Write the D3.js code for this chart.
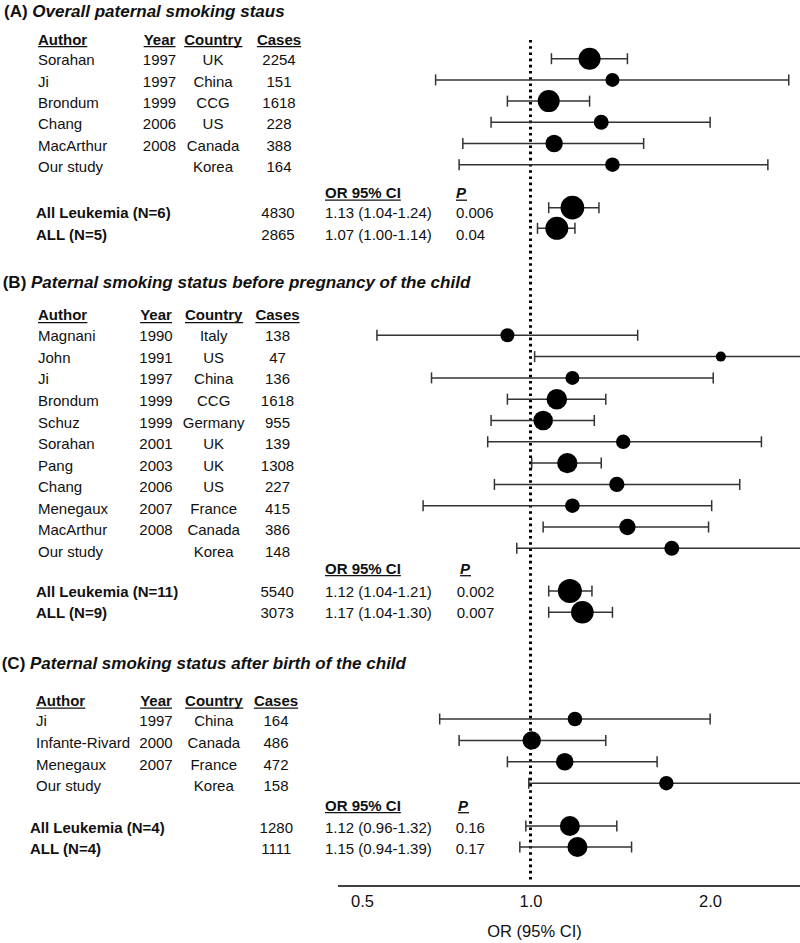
<!DOCTYPE html>
<html>
<head>
<meta charset="utf-8">
<script src="https://cdn.jsdelivr.net/npm/d3@7"></script>
<style>
  html, body { margin: 0; padding: 0; background: #fff; }
  svg { display: block; font-family: "Liberation Sans", Arial, Helvetica, sans-serif; }
</style>
</head>
<body>
<svg id="chart" width="800" height="943"></svg>
<script>
// ---------------- DATA ----------------
const panelLetters = ["(A)", "(B)", "(C)"];
const panelTitles = [
  "Overall paternal smoking staus",
  "Paternal smoking status before pregnancy of the child",
  "Paternal smoking status after birth of the child"
];
const headerLabels = ["Author", "Year", "Country", "Cases"];
const summaryHeaders = ["OR 95% CI", "P"];

// Panel A
const authorsA   = ["Sorahan", "Ji", "Brondum", "Chang", "MacArthur", "Our study"];
const yearsA     = ["1997", "1997", "1999", "2006", "2008", ""];
const countriesA = ["UK", "China", "CCG", "US", "Canada", "Korea"];
const casesA     = [2254, 151, 1618, 228, 388, 164];
const orA        = [1.20, 1.30, 1.04, 1.25, 1.06, 1.30];
const loA        = [1.05, 0.70, 0.90, 0.85, 0.77, 0.76];
const hiA        = [1.37, 2.41, 1.20, 1.83, 1.45, 2.24];
const weightA    = [121, 49, 121, 56, 76, 52];
const sumLabelsA = ["All Leukemia (N=6)", "ALL (N=5)"];
const sumCasesA  = [4830, 2865];
const sumOrA     = [1.13, 1.07];
const sumLoA     = [1.04, 1.00];
const sumHiA     = [1.24, 1.14];
const sumPA      = ["0.006", "0.04"];
const sumWeightA = [140, 132];

// Panel B
const authorsB   = ["Magnani", "John", "Ji", "Brondum", "Schuz", "Sorahan", "Pang", "Chang", "Menegaux", "MacArthur", "Our study"];
const yearsB     = ["1990", "1991", "1997", "1999", "1999", "2001", "2003", "2006", "2007", "2008", ""];
const countriesB = ["Italy", "US", "China", "CCG", "Germany", "UK", "UK", "US", "France", "Canada", "Korea"];
const casesB     = [138, 47, 136, 1618, 955, 139, 1308, 227, 415, 386, 148];
const orB        = [0.90, 1.90, 1.13, 1.07, 1.02, 1.35, 1.11, 1.32, 1.13, 1.37, 1.60];
const loB        = [0.57, 0.99, 0.69, 0.90, 0.85, 0.84, 0.98, 0.86, 0.67, 1.02, 0.93];
const hiB        = [1.42, 3.60, 1.85, 1.27, 1.22, 2.19, 1.25, 2.03, 1.84, 1.82, 3.00];
const weightB    = [49, 25, 49, 106, 96, 52, 104, 59, 53, 67, 56];
const sumLabelsB = ["All Leukemia (N=11)", "ALL (N=9)"];
const sumCasesB  = [5540, 3073];
const sumOrB     = [1.12, 1.17];
const sumLoB     = [1.04, 1.04];
const sumHiB     = [1.21, 1.30];
const sumPB      = ["0.002", "0.007"];
const sumWeightB = [144, 128];

// Panel C
const authorsC   = ["Ji", "Infante-Rivard", "Menegaux", "Our study"];
const yearsC     = ["1997", "2000", "2007", ""];
const countriesC = ["China", "Canada", "France", "Korea"];
const casesC     = [164, 486, 472, 158];
const orC        = [1.14, 0.98, 1.10, 1.57];
const loC        = [0.71, 0.76, 0.90, 0.97];
const hiC        = [1.83, 1.27, 1.52, 3.20];
const weightC    = [53, 85, 77, 52];
const sumLabelsC = ["All Leukemia (N=4)", "ALL (N=4)"];
const sumCasesC  = [1280, 1111];
const sumOrC     = [1.12, 1.15];
const sumLoC     = [0.96, 0.94];
const sumHiC     = [1.32, 1.39];
const sumPC      = ["0.16", "0.17"];
const sumWeightC = [100, 100];

const axisTicks = [0.5, 1.0, 2.0];
const axisTitle = "OR (95% CI)";
const refValue = 1.0;

// ---------------- LAYOUT ----------------
const W = 800, H = 943;
const svg = d3.select("#chart");
const FS = 15;       // table font size
const TITLE_FS = 17;
const AXIS_FS = 16.5;

// data scale (log)
const x = d3.scaleLog().domain([1, 2]).range([537.5, 735.5]);
// axis label scale (as drawn in the original figure)
const xAxisScale = d3.scaleLog().domain([0.5, 1, 2]).range([362, 530.5, 710]);
const rScale = d3.scaleSqrt().domain([0, 144]).range([0, 12]);
const fmt = d3.format(".2f");

function makeRows(authors, years, countries, cases, or, lo, hi, w) {
  return authors.map((a, i) => ({author: a, year: years[i], country: countries[i], cases: cases[i], or: or[i], lo: lo[i], hi: hi[i], w: w[i]}));
}
function makeSums(labels, cases, or, lo, hi, p, w) {
  return labels.map((l, i) => ({label: l, cases: cases[i], or: or[i], lo: lo[i], hi: hi[i], p: p[i], w: w[i]}));
}

const panels = [
  { rows: makeRows(authorsA, yearsA, countriesA, casesA, orA, loA, hiA, weightA),
    sums: makeSums(sumLabelsA, sumCasesA, sumOrA, sumLoA, sumHiA, sumPA, sumWeightA),
    L: {titleX: 4, title: 16.5, header: 44.5, text0: 65.3, textStep: 21.3, mark0: 58.7, markStep: 21.2,
        orHeader: 198, sumText0: 218, sumTextStep: 21.5, sumMark0: 207.7, sumMarkStep: 20.6,
        authorX: 38, sumLabelX: 36, yearC: 159.5, countryC: 213, casesC: 279, sumCasesC: 278,
        orX: 325, pX: 456, pHeaderX: 456} },
  { rows: makeRows(authorsB, yearsB, countriesB, casesB, orB, loB, hiB, weightB),
    sums: makeSums(sumLabelsB, sumCasesB, sumOrB, sumLoB, sumHiB, sumPB, sumWeightB),
    L: {titleX: 2.7, title: 287.5, header: 320.4, text0: 341.3, textStep: 21.55, mark0: 335.3, markStep: 21.3,
        orHeader: 573.5, sumText0: 597, sumTextStep: 21, sumMark0: 591, sumMarkStep: 21.3,
        authorX: 38, sumLabelX: 36, yearC: 156, countryC: 213.7, casesC: 277.5, sumCasesC: 277.2,
        orX: 325, pX: 456.7, pHeaderX: 460} },
  { rows: makeRows(authorsC, yearsC, countriesC, casesC, orC, loC, hiC, weightC),
    sums: makeSums(sumLabelsC, sumCasesC, sumOrC, sumLoC, sumHiC, sumPC, sumWeightC),
    L: {titleX: 1.7, title: 669, header: 706, text0: 726, textStep: 21.8, mark0: 719, markStep: 21.4,
        orHeader: 810.5, sumText0: 832.7, sumTextStep: 21.7, sumMark0: 826, sumMarkStep: 21,
        authorX: 36, sumLabelX: 30, yearC: 156, countryC: 213.8, casesC: 276, sumCasesC: 276.3,
        orX: 325, pX: 455.7, pHeaderX: 458} }
];

const ink = "#111";

// reference dotted line (drawn first, under markers)
svg.append("line")
  .attr("x1", xAxisScale(refValue)).attr("x2", xAxisScale(refValue))
  .attr("y1", 40).attr("y2", 880)
  .attr("stroke", "#000").attr("stroke-width", 3)
  .attr("stroke-dasharray", "2.6,3.6");

function underline(sel) {
  sel.each(function() {
    const bb = this.getBBox();
    const yb = +d3.select(this).attr("y");
    svg.append("line")
      .attr("x1", bb.x).attr("x2", bb.x + bb.width)
      .attr("y1", yb + 2.2).attr("y2", yb + 2.2)
      .attr("stroke", ink).attr("stroke-width", 1.3);
  });
}

function drawCI(g, d, y) {
  const x0 = x(d.lo), x1 = x(d.hi), cap = 5.5;
  g.append("line").attr("x1", x0).attr("x2", x1).attr("y1", y).attr("y2", y)
    .attr("stroke", "#333").attr("stroke-width", 1.5);
  [x0, x1].forEach(xx => {
    g.append("line").attr("x1", xx).attr("x2", xx).attr("y1", y - cap).attr("y2", y + cap)
      .attr("stroke", "#333").attr("stroke-width", 1.5);
  });
  g.append("circle").attr("cx", x(d.or)).attr("cy", y).attr("r", rScale(d.w)).attr("fill", "#000");
}

panels.forEach((p, pi) => {
  const L = p.L;
  const g = svg.append("g");
  const yText = d3.scaleLinear().domain([0, 1]).range([L.text0, L.text0 + L.textStep]);
  const yMark = d3.scaleLinear().domain([0, 1]).range([L.mark0, L.mark0 + L.markStep]);
  const ySumText = d3.scaleLinear().domain([0, 1]).range([L.sumText0, L.sumText0 + L.sumTextStep]);
  const ySumMark = d3.scaleLinear().domain([0, 1]).range([L.sumMark0, L.sumMark0 + L.sumMarkStep]);

  // title
  const t = g.append("text").attr("x", L.titleX).attr("y", L.title)
    .attr("font-size", TITLE_FS).attr("font-weight", "bold").attr("fill", ink);
  t.append("tspan").text(panelLetters[pi] + " ");
  t.append("tspan").attr("font-style", "italic").text(panelTitles[pi]);

  // headers
  const hdrX = [L.authorX, L.yearC, L.countryC, L.casesC];
  const hdrAnchor = ["start", "middle", "middle", "middle"];
  const hdr = g.selectAll(null).data(headerLabels).enter().append("text")
    .attr("x", (d, i) => hdrX[i]).attr("y", L.header)
    .attr("text-anchor", (d, i) => hdrAnchor[i])
    .attr("font-size", FS).attr("font-weight", "bold").attr("fill", ink)
    .text(d => d);
  underline(hdr);

  // rows
  p.rows.forEach((d, i) => {
    const yt = yText(i);
    g.append("text").attr("x", L.authorX).attr("y", yt).attr("font-size", FS).attr("fill", ink).text(d.author);
    g.append("text").attr("x", L.yearC).attr("y", yt).attr("text-anchor", "middle").attr("font-size", FS).attr("fill", ink).text(d.year);
    g.append("text").attr("x", L.countryC).attr("y", yt).attr("text-anchor", "middle").attr("font-size", FS).attr("fill", ink).text(d.country);
    g.append("text").attr("x", L.casesC).attr("y", yt).attr("text-anchor", "middle").attr("font-size", FS).attr("fill", ink).text(d.cases);
    drawCI(g, d, yMark(i));
  });

  // summary headers
  const sh1 = g.append("text").attr("x", L.orX).attr("y", L.orHeader)
    .attr("font-size", FS).attr("font-weight", "bold").attr("fill", ink).text(summaryHeaders[0]);
  const sh2 = g.append("text").attr("x", L.pHeaderX).attr("y", L.orHeader)
    .attr("font-size", FS).attr("font-weight", "bold").attr("font-style", "italic").attr("fill", ink).text(summaryHeaders[1]);
  underline(sh1); underline(sh2);

  // summary rows
  p.sums.forEach((d, i) => {
    const yt = ySumText(i);
    g.append("text").attr("x", L.sumLabelX).attr("y", yt).attr("font-size", FS).attr("font-weight", "bold").attr("fill", ink).text(d.label);
    g.append("text").attr("x", L.sumCasesC).attr("y", yt).attr("text-anchor", "middle").attr("font-size", FS).attr("fill", ink).text(d.cases);
    g.append("text").attr("x", L.orX).attr("y", yt).attr("font-size", FS).attr("fill", ink)
      .text(`${fmt(d.or)} (${fmt(d.lo)}-${fmt(d.hi)})`);
    g.append("text").attr("x", L.pX).attr("y", yt).attr("font-size", FS).attr("fill", ink).text(d.p);
    drawCI(g, d, ySumMark(i));
  });
});

// axis
svg.append("line").attr("x1", 338).attr("x2", 800).attr("y1", 886).attr("y2", 886)
  .attr("stroke", "#000").attr("stroke-width", 1.5);
const axisG = svg.append("g").attr("transform", "translate(0,886)")
  .call(d3.axisBottom(xAxisScale).tickValues(axisTicks).tickFormat(d3.format(".1f")).tickSize(0).tickPadding(9));
axisG.select(".domain").remove();
axisG.selectAll("text").attr("font-size", AXIS_FS).attr("fill", ink)
  .style("font-family", "'Liberation Sans', Arial, sans-serif");

svg.append("text").attr("x", 534.5).attr("y", 937).attr("text-anchor", "middle")
  .attr("font-size", AXIS_FS).attr("fill", ink).text(axisTitle);
</script>
</body>
</html>
